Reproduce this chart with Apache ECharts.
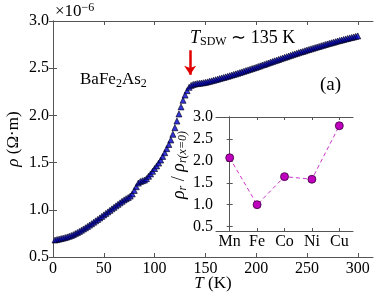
<!DOCTYPE html>
<html><head><meta charset="utf-8">
<script src="https://cdn.jsdelivr.net/npm/echarts@6/dist/echarts.min.js"></script>
<style>html,body{margin:0;padding:0;background:#fff}#c{width:392px;height:296px}</style>
</head><body><div id="c"></div>
<script>
// Main panel: temperature (K) and resistivity (units of 1e-6 Ω·m)
const temps = [2,4,6,8,10,12,14,16,18,20,22,24,26,28,30,32,34,36,38,40,42,44,46,48,50,52,54,56,58,60,
62,64,66,68,70,72,74,76,78,80,82,84,86,88,90,92,94,96,98,100,102,104,106,108,110,112,114,116,118,120,
122,124,126,128,130,132,134,136,138,140,142,144,146,148,150,152,154,156,158,160,162,164,166,168,170,172,174,176,178,180,
182,184,186,188,190,192,194,196,198,200,202,204,206,208,210,212,214,216,218,220,222,224,226,228,230,232,234,236,238,240,
242,244,246,248,250,252,254,256,258,260,262,264,266,268,270,272,274,276,278,280,282,284,286,288,290,292,294,296,298,300];
const rho = [
0.680,0.685,0.690,0.695,0.700,0.706,0.713,0.720,0.728,0.737,
0.748,0.759,0.771,0.784,0.797,0.810,0.824,0.838,0.853,0.868,
0.883,0.898,0.914,0.930,0.946,0.962,0.978,0.994,1.010,1.026,
1.042,1.058,1.074,1.090,1.105,1.118,1.130,1.145,1.168,1.205,
1.245,1.283,1.300,1.308,1.315,1.330,1.355,1.380,1.408,1.437,
1.465,1.495,1.527,1.565,1.605,1.648,1.692,1.740,1.800,1.870,
1.940,2.015,2.090,2.160,2.215,2.262,2.298,2.318,2.328,2.333,
2.337,2.340,2.343,2.346,2.350,
2.355,2.361,2.366,2.372,2.378,2.384,2.390,2.396,2.402,2.408,
2.414,2.421,2.427,2.434,2.440,2.447,2.454,2.461,2.468,2.475,
2.482,2.489,2.496,2.503,2.510,2.518,2.525,2.533,2.540,2.548,
2.555,2.563,2.570,2.578,2.585,2.592,2.600,2.607,2.615,2.622,
2.629,2.636,2.644,2.651,2.658,2.665,2.672,2.678,2.685,2.692,
2.699,2.705,2.712,2.718,2.725,2.731,2.738,2.744,2.751,2.757,
2.763,2.769,2.775,2.781,2.787,2.793,2.798,2.804,2.810,2.815,
2.821,2.826,2.831,2.837,2.842];
const xTicks = [0,50,100,150,200,250,300];
const yTicks = [0.5,1.0,1.5,2.0,2.5,3.0];
// Arrow marking T_SDW
const tSDW = 135;
const arrowFrom = 2.69, arrowTo = 2.43;
// Inset
const elements = ['Mn','Fe','Co','Ni','Cu'];
const ratio = [2.07,1.00,1.64,1.58,2.80];
const insetYTicks = [0.5,1.0,1.5,2.0,2.5,3.0];

const FONT = 'Liberation Serif';
const TXT = '#000';
const frame = '#555';
const chart = echarts.init(document.getElementById('c'), null, {renderer:'canvas'});
const mainData = temps.map((t,i)=>[t, rho[i]]);
const insetData = elements.map((e,i)=>[i, ratio[i]]);
const idx = elements.map((e,i)=>i);

function valAxis(extra){
  return Object.assign({
    type:'value', axisLine:{show:true,lineStyle:{color:frame,width:1}},
    axisTick:{show:true,inside:true,length:4,lineStyle:{color:frame}},
    splitLine:{show:false}, nameMoveOverlap:false,
    axisLabel:{color:TXT,fontFamily:FONT,fontSize:16}
  }, extra);
}

chart.setOption({
  animation:false,
  grid:[
    {left:53,top:21,right:19,bottom:39,show:false,outerBoundsMode:'none',containLabel:false},
    {left:216,top:117,width:137,height:114,show:false,outerBoundsMode:'none',containLabel:false}
  ],
  xAxis:[
    valAxis({gridIndex:0,min:0,max:315,position:'bottom',
      axisTick:{show:true,inside:true,length:4,lineStyle:{color:frame},customValues:xTicks},
      axisLabel:{color:TXT,fontFamily:FONT,fontSize:16,customValues:xTicks,margin:4},
      name:'{i|T} (K)',nameLocation:'middle',nameGap:18,
      nameTextStyle:{color:TXT,fontFamily:FONT,fontSize:17,verticalAlign:'top',rich:{i:{fontStyle:'italic',fontFamily:FONT,fontSize:17,color:TXT}}}}),
    valAxis({gridIndex:0,min:0,max:315,position:'top',
      axisTick:{show:true,inside:true,length:4,lineStyle:{color:frame},customValues:xTicks},
      axisLabel:{show:false}}),
    valAxis({gridIndex:1,min:-0.5,max:4.5,position:'bottom',
      axisTick:{show:true,inside:true,length:3,lineStyle:{color:frame},customValues:idx},
      axisLabel:{color:TXT,fontFamily:FONT,fontSize:16,customValues:idx,margin:3,formatter:v=>elements[Math.round(v)]}}),
    valAxis({gridIndex:1,min:-0.5,max:4.5,position:'top',
      axisTick:{show:true,inside:true,length:3,lineStyle:{color:frame},customValues:idx},
      axisLabel:{show:false}})
  ],
  yAxis:[
    valAxis({gridIndex:0,min:0.5,max:3.0,position:'left',
      axisTick:{show:true,inside:true,length:4,lineStyle:{color:frame},customValues:yTicks},
      axisLabel:{color:TXT,fontFamily:FONT,fontSize:16,customValues:yTicks,margin:4,formatter:v=>v.toFixed(1)},
      name:'{i|ρ} (Ω·m)',nameLocation:'middle',nameGap:31,nameRotate:90,
      nameTextStyle:{color:TXT,fontFamily:FONT,fontSize:17,rich:{i:{fontStyle:'italic',fontFamily:FONT,fontSize:17,color:TXT}}}}),
    valAxis({gridIndex:0,min:0.5,max:3.0,position:'right',
      axisTick:{show:true,inside:true,length:4,lineStyle:{color:frame},customValues:yTicks},
      axisLabel:{show:false}}),
    valAxis({gridIndex:1,min:0.4,max:3.0,position:'left',
      axisTick:{show:true,inside:true,length:3,lineStyle:{color:frame},customValues:insetYTicks},
      axisLabel:{color:TXT,fontFamily:FONT,fontSize:16,customValues:insetYTicks,margin:3,formatter:v=>v.toFixed(1)},
      name:'{i|ρ}{s|r} / {i|ρ}{s|r(x=0)}',nameLocation:'middle',nameGap:27,nameRotate:90,
      nameTextStyle:{color:TXT,fontFamily:FONT,fontSize:18,padding:[0,0,0,18],rich:{
        i:{fontStyle:'italic',fontFamily:FONT,fontSize:18,color:TXT},
        s:{fontStyle:'italic',fontFamily:FONT,fontSize:12,color:TXT,verticalAlign:'bottom',padding:[8,0,0,0]}}}}),
    valAxis({gridIndex:1,min:0.4,max:3.0,position:'right',
      axisTick:{show:true,inside:true,length:3,lineStyle:{color:frame},customValues:insetYTicks},
      axisLabel:{show:false}})
  ],
  series:[
    {type:'scatter',xAxisIndex:0,yAxisIndex:0,data:mainData,symbol:'triangle',symbolSize:6,
      itemStyle:{color:'#0000d0',borderColor:'#000018',borderWidth:0.8},
      markLine:{silent:true,symbol:['none','arrow'],symbolSize:[9,9],
        lineStyle:{color:'#e00000',width:2.5,type:'solid'},label:{show:false},
        itemStyle:{color:'#e00000',borderColor:'#300',borderWidth:0.8},
        data:[[{coord:[tSDW,arrowFrom]},{coord:[tSDW,arrowTo]}]]}},
    {type:'line',xAxisIndex:2,yAxisIndex:2,data:insetData,symbol:'circle',symbolSize:8,
      lineStyle:{color:'#cc33cc',width:1,type:[4,3]},
      itemStyle:{color:'#bf00bf',borderColor:'#3a003a',borderWidth:0.8}}
  ],
  graphic:[
    {type:'rect',shape:{x:216,y:117,width:137,height:114},style:{fill:'#fff',stroke:'none'},z:-1},
    {type:'text',x:55,y:2,style:{text:'×10{s|−6}',fontFamily:FONT,fontSize:17,fill:TXT,
      rich:{s:{fontSize:12,fontFamily:FONT,fill:TXT,verticalAlign:'top',padding:[0,0,8,0]}}}},
    {type:'text',x:80,y:70,style:{text:'BaFe{s|2}As{s|2}',fontFamily:FONT,fontSize:17,fill:TXT,
      rich:{s:{fontSize:12,fontFamily:FONT,fill:TXT,padding:[8,0,0,0]}}}},
    {type:'text',x:190,y:28,style:{text:'{i|T}{s|SDW} ∼ 135 K',fontFamily:FONT,fontSize:18,fill:TXT,
      rich:{i:{fontStyle:'italic',fontFamily:FONT,fontSize:18,fill:TXT},s:{fontSize:12,fontFamily:FONT,fill:TXT,padding:[8,0,0,0]}}}},
    {type:'text',x:320,y:76,style:{text:'(a)',fontFamily:FONT,fontSize:19,fill:TXT}}
  ]
});
</script></body></html>
